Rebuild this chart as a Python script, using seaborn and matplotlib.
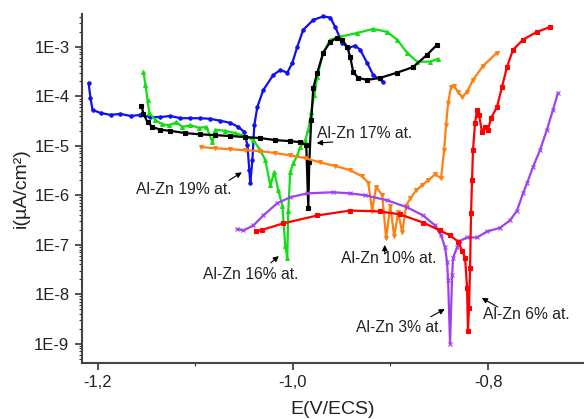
import numpy as np
import pandas as pd
import matplotlib
matplotlib.use("Agg")
import matplotlib.pyplot as plt
from matplotlib.ticker import FuncFormatter, FixedLocator, MultipleLocator, NullFormatter
import seaborn as sns

# polarization curves: E (V/ECS) and i (uA/cm2)
E_19 = [-1.2092, -1.2072, -1.2051, -1.1969, -1.1867, -1.1765, -1.1662, -1.1560, -1.1458,
        -1.1355, -1.1253, -1.1151, -1.1049, -1.0946, -1.0844, -1.0742, -1.0639, -1.0558,
        -1.0496, -1.0465, -1.0445, -1.0435, -1.0414, -1.0394, -1.0363, -1.0302, -1.0199,
        -1.0128, -1.0056, -1.0005, -0.9954, -0.9893, -0.9790, -0.9688, -0.9616, -0.9565,
        -0.9494, -0.9432, -0.9361, -0.9309, -0.9238, -0.9176, -0.9074]
i_19 = [1.86e-4, 9.2e-5, 5.3e-5, 4.6e-5, 4.2e-5, 4.4e-5, 4.0e-5, 4.2e-5, 3.8e-5,
        3.8e-5, 4.0e-5, 3.6e-5, 3.6e-5, 3.6e-5, 3.5e-5, 3.2e-5, 2.9e-5, 2.4e-5,
        1.9e-5, 1.03e-5, 3.2e-6, 1.74e-6, 5.1e-6, 2.6e-5, 6.1e-5, 1.34e-4, 2.7e-4,
        3.4e-4, 3.0e-4, 4.7e-4, 1.0e-3, 2.2e-3, 3.5e-3, 4.1e-3, 3.9e-3, 2.5e-3,
        1.2e-3, 9.5e-4, 1.05e-3, 8.7e-4, 4.7e-4, 2.7e-4, 1.95e-4]

E_17 = [-1.1550, -1.1529, -1.1488, -1.1437, -1.1355, -1.1253, -1.1100, -1.0946, -1.0793,
        -1.0639, -1.0486, -1.0332, -1.0179, -1.0026, -0.9923, -0.9862, -0.9841, -0.9831,
        -0.9811, -0.9790, -0.9749, -0.9688, -0.9616, -0.9545, -0.9494, -0.9443, -0.9412,
        -0.9381, -0.9330, -0.9238, -0.9105, -0.8931, -0.8767, -0.8624, -0.8522]
i_17 = [6.4e-5, 4.4e-5, 3.0e-5, 2.4e-5, 2.1e-5, 2.0e-5, 1.8e-5, 1.7e-5, 1.64e-5,
        1.57e-5, 1.5e-5, 1.43e-5, 1.3e-5, 1.24e-5, 1.18e-5, 1.03e-5, 5.4e-7, 4.6e-6,
        3.3e-5, 1.47e-4, 3.0e-4, 7.6e-4, 1.26e-3, 1.52e-3, 1.39e-3, 1.0e-3, 6.3e-4,
        3.1e-4, 2.35e-4, 2.14e-4, 2.35e-4, 3.0e-4, 3.9e-4, 6.9e-4, 1.1e-3]

E_16 = [-1.1529, -1.1509, -1.1488, -1.1468, -1.1407, -1.1335, -1.1263, -1.1192, -1.1130,
        -1.1049, -1.0956, -1.0885, -1.0823, -1.0793, -1.0690, -1.0588, -1.0486, -1.0404,
        -1.0332, -1.0281, -1.0230, -1.0189, -1.0148, -1.0107, -1.0077, -1.0056, -1.0046,
        -1.0026, -0.9995, -0.9954, -0.9923, -0.9872, -0.9841, -0.9811, -0.9780, -0.9749,
        -0.9688, -0.9616, -0.9514, -0.9340, -0.9176, -0.9033, -0.8931, -0.8829, -0.8726,
        -0.8593, -0.8512]
i_16 = [3.1e-4, 1.7e-4, 8.4e-5, 4.6e-5, 3.3e-5, 2.7e-5, 2.6e-5, 3.0e-5, 2.4e-5,
        2.6e-5, 2.3e-5, 2.4e-5, 1.18e-5, 2.1e-5, 2.0e-5, 1.8e-5, 1.57e-5, 1.3e-5,
        8.1e-6, 5.1e-6, 1.6e-6, 2.9e-6, 1.26e-6, 6.2e-7, 9.6e-8, 5.5e-8, 4.9e-7,
        2.9e-6, 4.4e-6, 6.4e-6, 9.4e-6, 1.3e-5, 2.1e-5, 4.8e-5, 1.06e-4, 2.5e-4,
        7.6e-4, 1.39e-3, 1.6e-3, 1.9e-3, 2.3e-3, 2.0e-3, 1.39e-3, 7.6e-4, 5.0e-4,
        5.0e-4, 5.7e-4]

E_10 = [-1.0936, -1.0793, -1.0639, -1.0486, -1.0332, -1.0179, -1.0026, -0.9872, -0.9719,
        -0.9565, -0.9412, -0.9289, -0.9227, -0.9187, -0.9146, -0.9084, -0.9043, -0.9002,
        -0.8961, -0.8920, -0.8879, -0.8838, -0.8797, -0.8736, -0.8675, -0.8613, -0.8542,
        -0.8481, -0.8450, -0.8430, -0.8409, -0.8379, -0.8348, -0.8307, -0.8266, -0.8215,
        -0.8154, -0.8051, -0.7908]
i_10 = [9.4e-6, 8.9e-6, 8.5e-6, 8.1e-6, 7.8e-6, 7.1e-6, 6.4e-6, 5.6e-6, 4.6e-6,
        3.9e-6, 3.2e-6, 2.4e-6, 1.8e-6, 4.9e-7, 1.5e-6, 1.0e-6, 1.34e-7, 6.2e-7,
        1.47e-7, 4.5e-7, 1.77e-7, 6.2e-7, 8.6e-7, 1.26e-6, 1.6e-6, 2.0e-6, 2.65e-6,
        2.2e-6, 8.1e-6, 2.6e-5, 7.3e-5, 1.55e-4, 1.6e-4, 1.22e-4, 9.7e-5, 1.22e-4,
        2.14e-4, 4.1e-4, 7.6e-4]

E_3 = [-1.0568, -1.0506, -1.0404, -1.0302, -1.0159, -1.0026, -0.9852, -0.9586, -0.9412,
       -0.9258, -0.9033, -0.8829, -0.8665, -0.8542, -0.8481, -0.8440, -0.8419, -0.8409,
       -0.8389, -0.8368, -0.8358, -0.8317, -0.8286, -0.8215, -0.8113, -0.8010, -0.7877,
       -0.7775, -0.7703, -0.7642, -0.7601, -0.7540, -0.7468, -0.7397, -0.7335, -0.7284]
i_3 = [2.1e-7, 1.94e-7, 2.45e-7, 3.9e-7, 6.9e-7, 9.1e-7, 1.09e-6, 1.15e-6, 1.09e-6,
       1.0e-6, 7.9e-7, 5.7e-7, 3.9e-7, 2.45e-7, 1.54e-7, 8.8e-8, 4.4e-8, 1.9e-8,
       9.9e-10, 2.4e-8, 5.5e-8, 8.8e-8, 1.2e-7, 1.4e-7, 1.4e-7, 1.85e-7, 2.2e-7,
       3.1e-7, 4.9e-7, 1.09e-6, 1.74e-6, 3.7e-6, 8.1e-6, 2.1e-5, 5.3e-5, 1.17e-4]

E_6 = [-1.0373, -1.0312, -1.0097, -0.9749, -0.9412, -0.9105, -0.8900, -0.8665, -0.8491,
       -0.8389, -0.8307, -0.8266, -0.8235, -0.8215, -0.8205, -0.8195, -0.8184, -0.8174,
       -0.8164, -0.8154, -0.8133, -0.8113, -0.8092, -0.8062, -0.8031, -0.8000, -0.7969,
       -0.7908, -0.7857, -0.7806, -0.7744, -0.7642, -0.7499, -0.7366]
i_6 = [1.85e-7, 2.0e-7, 2.7e-7, 3.9e-7, 4.9e-7, 4.7e-7, 4.1e-7, 2.8e-7, 1.94e-7,
       1.54e-7, 1.16e-7, 7.6e-8, 5.5e-8, 1.36e-8, 1.8e-9, 5.3e-9, 3.4e-8, 4.3e-7,
       2.0e-6, 8.1e-6, 2.9e-5, 5.3e-5, 4.2e-5, 1.9e-5, 2.4e-5, 2.1e-5, 3.6e-5,
       6.1e-5, 1.55e-4, 3.9e-4, 8.7e-4, 1.39e-3, 2.0e-3, 2.5e-3]

# y tick decades shown on the axis
y_decades = [-9, -8, -7, -6, -5, -4, -3]

series = [
    (E_19, i_19, "#1010f0", "o", 2.4),
    (E_16, i_16, "#10e010", "^", 2.8),
    (E_17, i_17, "#000000", "s", 2.2),
    (E_10, i_10, "#ff8010", "v", 2.8),
    (E_3, i_3, "#a040f0", "x", 2.8),
    (E_6, i_6, "#ff0000", "s", 2.2),
]

sns.set_style("ticks")
plt.rcParams["font.family"] = ["Liberation Sans", "DejaVu Sans"]

fig = plt.figure(figsize=(5.84, 4.19), dpi=100)
ax = fig.add_axes([0.1404, 0.1344, 0.8596, 0.832])

for E, cur, col, mk, ms in series:
    df = pd.DataFrame({"E": E, "i": cur})
    sns.lineplot(data=df, x="E", y="i", sort=False, estimator=None, ax=ax,
                 color=col, marker=mk, markersize=ms, markeredgewidth=0.8,
                 markeredgecolor=col, linewidth=1.6)

ax.set_yscale("log")
ax.set_xlim(-1.2159, -0.7017)
ax.set_ylim(4.13e-10, 4.58e-3)

major = [10.0 ** d for d in y_decades]
minor = [m * 10.0 ** d for d in range(-10, -2) for m in range(2, 10)]
ax.yaxis.set_major_locator(FixedLocator(major))
ax.yaxis.set_minor_locator(FixedLocator(minor))
ax.yaxis.set_major_formatter(FuncFormatter(lambda v, p: "1E%d" % int(round(np.log10(v)))))
ax.yaxis.set_minor_formatter(NullFormatter())
ax.xaxis.set_major_locator(MultipleLocator(0.2))
ax.xaxis.set_minor_locator(MultipleLocator(0.1))
ax.xaxis.set_major_formatter(FuncFormatter(lambda v, p: ("%.1f" % v).replace(".", ",")))
ax.xaxis.set_minor_formatter(NullFormatter())

ax.tick_params(axis="both", which="major", direction="out", length=5, width=1.2,
               labelsize=12, pad=4, colors="#333333", labelcolor="#222222")
ax.tick_params(axis="both", which="minor", direction="out", length=2.5, width=0.8,
               colors="#333333")
for s in ["top", "right"]:
    ax.spines[s].set_visible(False)
for s in ["left", "bottom"]:
    ax.spines[s].set_linewidth(1.5)
    ax.spines[s].set_color("#444444")

ax.set_xlabel("E(V/ECS)", fontsize=14, labelpad=8, color="#222222")
ax.set_ylabel("i(µA/cm²)", fontsize=14, labelpad=3, color="#222222")

labels = [
    ("Al-Zn 19% at.", (-1.1116, 1.33e-6), (-1.0653, 2.0e-6), (-1.0522, 2.9e-6)),
    ("Al-Zn 17% at.", (-0.9262, 1.8e-5), (-0.9590, 1.19e-5), (-0.9754, 1.13e-5)),
    ("Al-Zn 16% at.", (-1.0430, 2.45e-8), (-1.0225, 4.3e-8), (-1.0143, 5.9e-8)),
    ("Al-Zn 10% at.", (-0.9017, 5.2e-8), (-0.9058, 6.5e-8), (-0.9058, 9.9e-8)),
    ("Al-Zn 3% at.", (-0.8904, 2.1e-9), (-0.8587, 3.5e-9), (-0.8443, 5.0e-9)),
    ("Al-Zn 6% at.", (-0.7603, 3.8e-9), (-0.7900, 5.5e-9), (-0.8064, 8.4e-9)),
]
for txt, pos, tail, head in labels:
    ax.text(pos[0], pos[1], txt, ha="center", va="center", fontsize=11.3, color="#222222")
    ax.annotate("", xy=head, xytext=tail,
                arrowprops=dict(arrowstyle="-|>", color="black", lw=0.8, mutation_scale=8,
                                shrinkA=0, shrinkB=0))

fig.savefig("out.png", dpi=100)
